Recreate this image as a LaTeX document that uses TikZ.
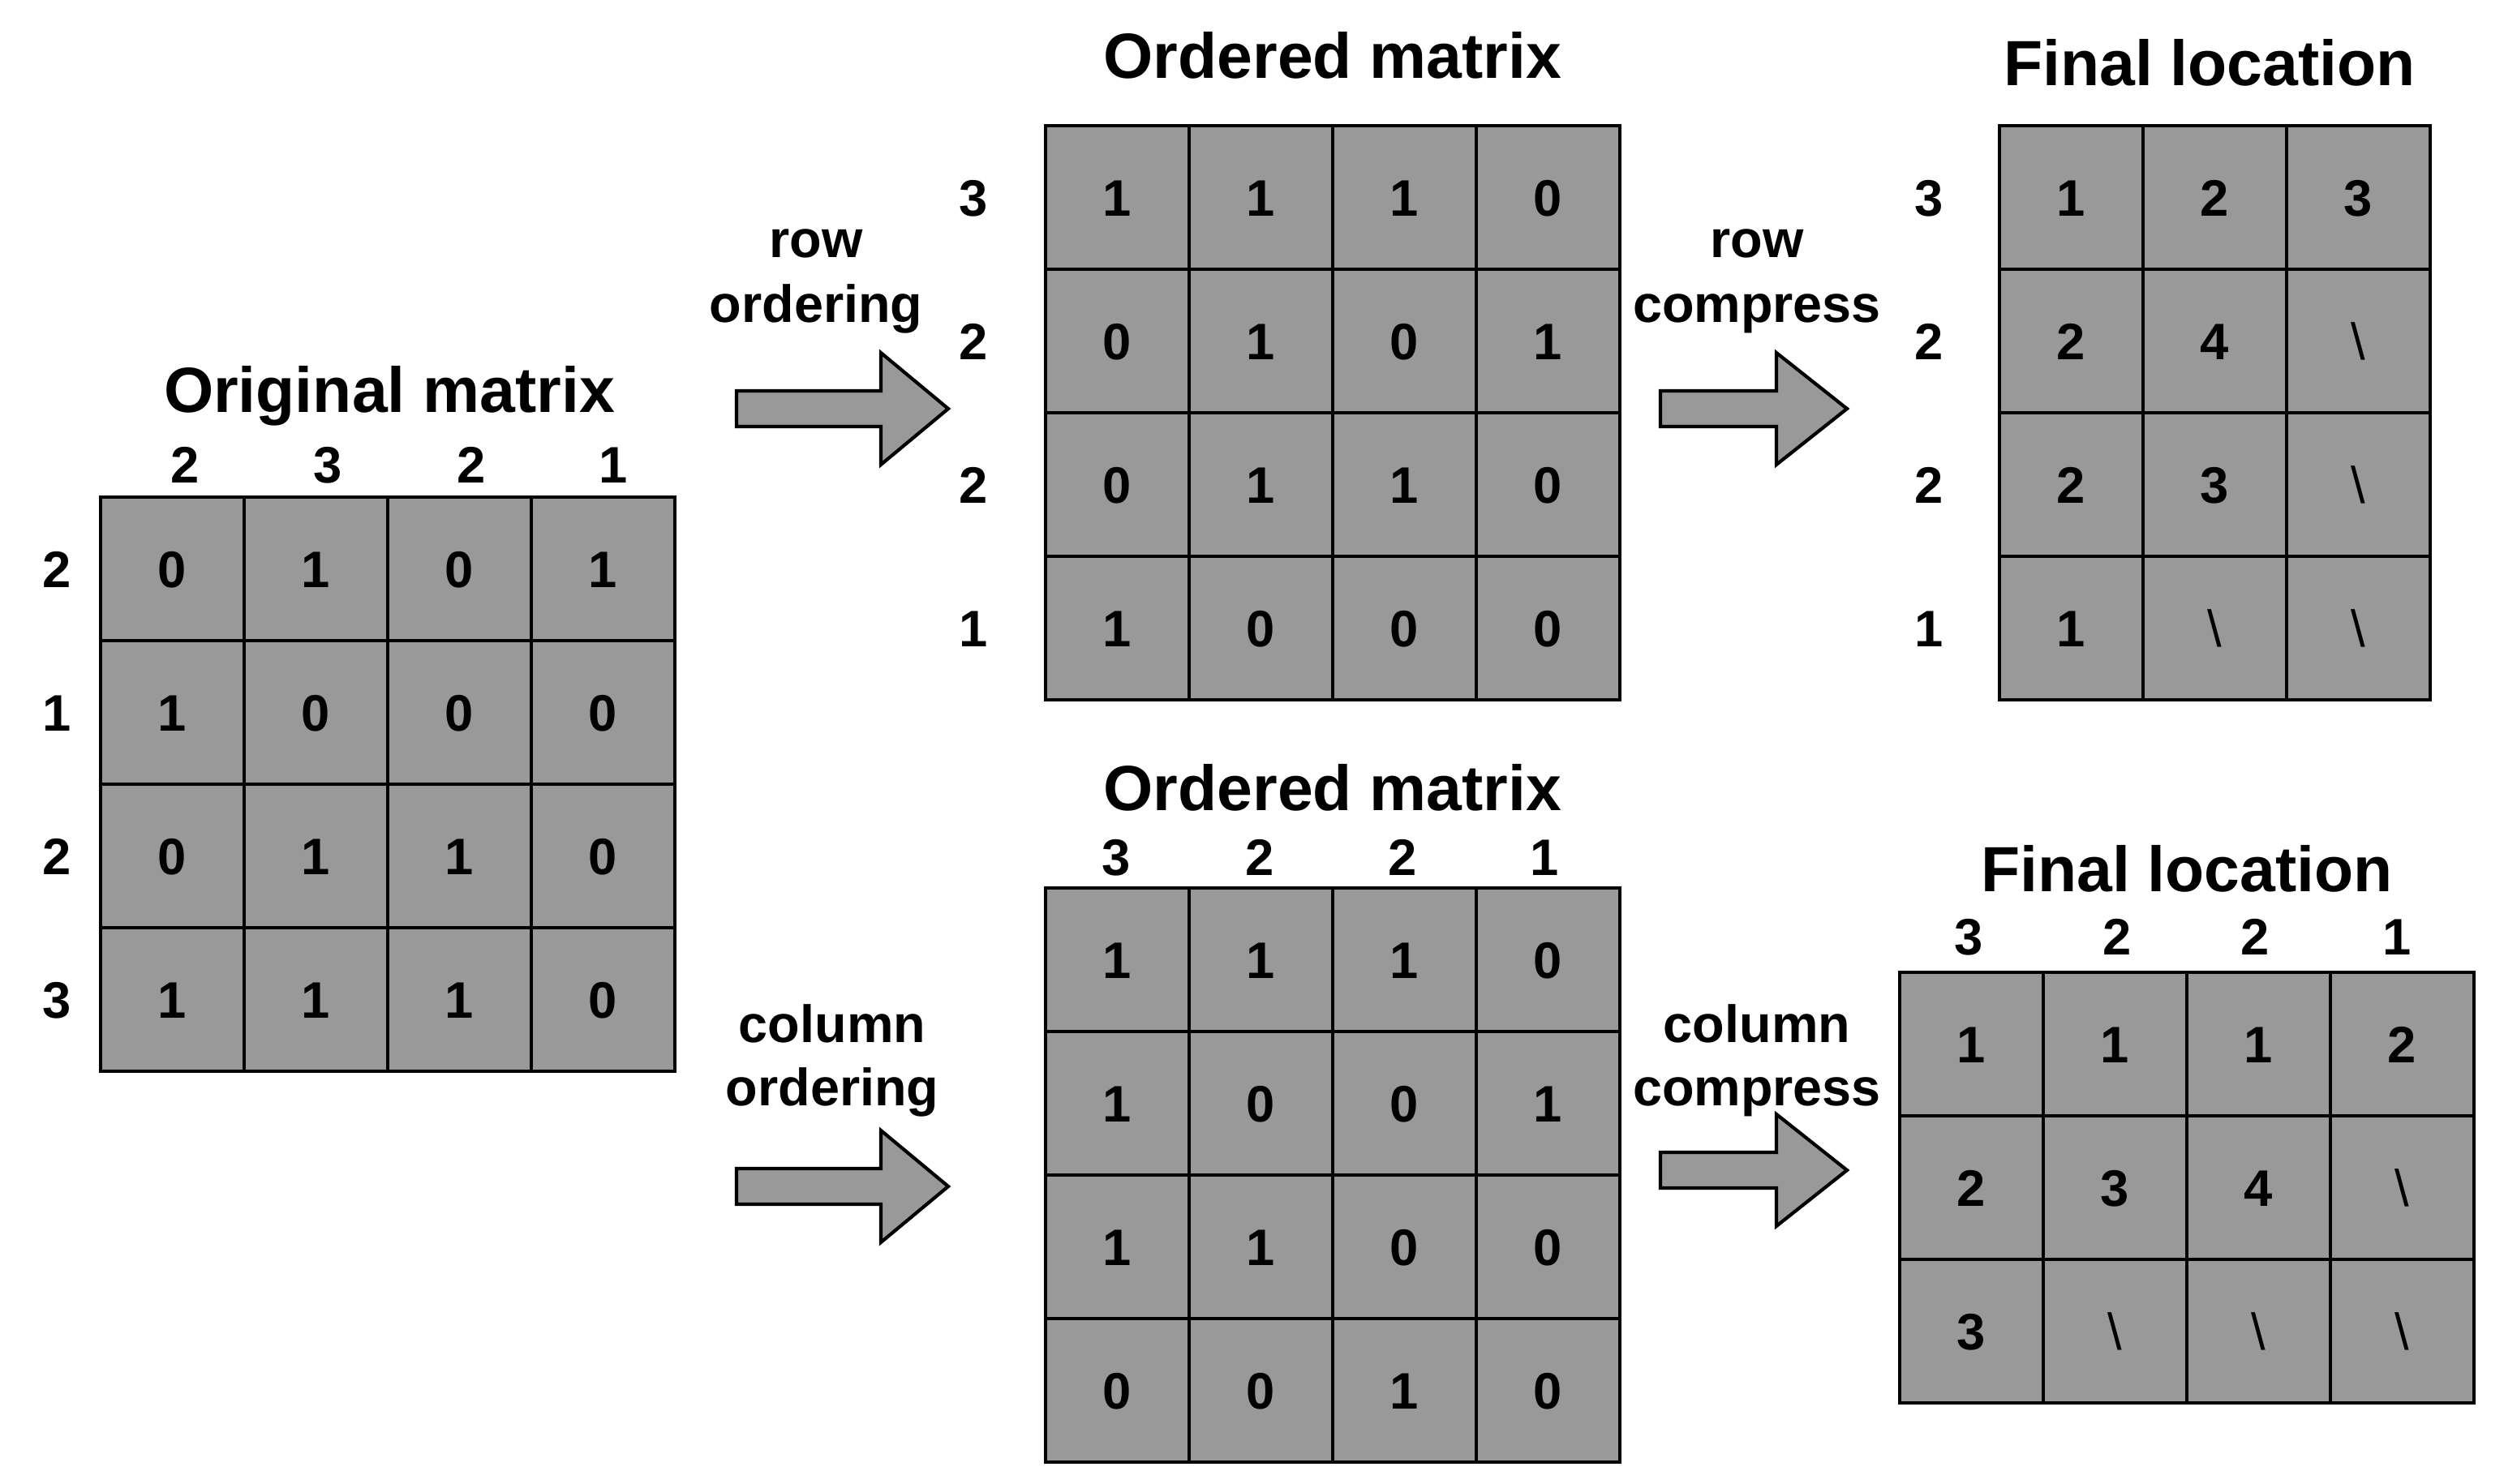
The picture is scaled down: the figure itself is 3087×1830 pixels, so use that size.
\documentclass[tikz,border=0pt]{standalone}
\usepackage{fontspec}
\setmainfont{Liberation Sans}
\definecolor{cellgray}{RGB}{153,153,153}
\newcommand\myTitleFont{\fontsize{22.4}{27}\selectfont\bfseries}
\newcommand\myLabelFont{\fontsize{18.4}{22.8}\selectfont\bfseries}
\newcommand\myDigitFont{\fontsize{18}{21}\selectfont\bfseries}
\newcommand\myBs{{\mdseries\textbackslash}}
\tikzset{
  cellbox/.style={draw=black, line width=1pt, fill=cellgray, minimum size=1.77cm,
    inner sep=0pt, outer sep=0pt, font=\myDigitFont, text height=12.9pt, text depth=0pt},
  idxlabel/.style={inner sep=0pt, font=\myDigitFont, text height=12.9pt, text depth=0pt},
  titletext/.style={inner sep=0pt, anchor=base, font=\myTitleFont},
  steptext/.style={inner sep=0pt, anchor=base, font=\myLabelFont},
  blockarrow/.style={draw=black, line width=1.2pt, fill=cellgray, line join=miter},
}
% #1 tail x, #2 centre y, #3 shaft length, #4 head length
\newcommand\myBlockArrow[4]{%
  \draw[blockarrow] (#1,#2) ++(0,-22) -- ++(#3,0) -- ++(0,-47) -- ++(#4,69)
    -- ++(-#4,69) -- ++(0,-47) -- ++(-#3,0) -- cycle;}
\begin{document}
\begin{tikzpicture}[x=0.01cm, y=-0.01cm]
\useasboundingbox (0,0) rectangle (3087,1830);

% ---------- Original matrix ----------
\node[titletext] (tO) at (480,508) {Original matrix};
\foreach \row [count=\r] in {{0,1,0,1},{1,0,0,0},{0,1,1,0},{1,1,1,0}} {
  \foreach \v [count=\c] in \row {
    \node[cellbox] (O-\r-\c) at ({124+177*(\c-0.5)},{613+177*(\r-0.5)}) {\v};
  }
}
\foreach \v/\x [count=\c] in {2/228,3/404,2/581,1/756}
  \node[idxlabel] (Oc\c) at (\x,573) {\v};
\foreach \v [count=\r] in {2,1,2,3}
  \node[idxlabel] (Or\r) at (70,{613+177*(\r-0.5)}) {\v};

% ---------- Ordered matrix (rows) ----------
\node[titletext] (tA) at (1643,97) {Ordered matrix};
\foreach \row [count=\r] in {{1,1,1,0},{0,1,0,1},{0,1,1,0},{1,0,0,0}} {
  \foreach \v [count=\c] in \row {
    \node[cellbox] (A-\r-\c) at ({1289+177*(\c-0.5)},{155+177*(\r-0.5)}) {\v};
  }
}
\foreach \v [count=\r] in {3,2,2,1}
  \node[idxlabel] (Ar\r) at (1200,{155+177*(\r-0.5)}) {\v};

% ---------- Final location (rows) ----------
\node[titletext] (tB) at (2724,105) {Final location};
\foreach \row [count=\r] in {{1,2,3},{2,4,\myBs},{2,3,\myBs},{1,\myBs,\myBs}} {
  \foreach \v [count=\c] in \row {
    \node[cellbox] (B-\r-\c) at ({2465+177*(\c-0.5)},{155+177*(\r-0.5)}) {\v};
  }
}
\foreach \v [count=\r] in {3,2,2,1}
  \node[idxlabel] (Br\r) at (2378,{155+177*(\r-0.5)}) {\v};

% ---------- Ordered matrix (columns) ----------
\node[titletext] (tC) at (1643,999) {Ordered matrix};
\foreach \row [count=\r] in {{1,1,1,0},{1,0,0,1},{1,1,0,0},{0,0,1,0}} {
  \foreach \v [count=\c] in \row {
    \node[cellbox] (C-\r-\c) at ({1289+177*(\c-0.5)},{1095+177*(\r-0.5)}) {\v};
  }
}
\foreach \v/\x [count=\c] in {3/1376,2/1553,2/1729,1/1904}
  \node[idxlabel] (Cc\c) at (\x,1057) {\v};

% ---------- Final location (columns) ----------
\node[titletext] (tD) at (2696,1099) {Final location};
\foreach \row [count=\r] in {{1,1,1,2},{2,3,4,\myBs},{3,\myBs,\myBs,\myBs}} {
  \foreach \v [count=\c] in \row {
    \node[cellbox] (D-\r-\c) at ({2342+177*(\c-0.5)},{1199+177*(\r-0.5)}) {\v};
  }
}
\foreach \v/\x [count=\c] in {3/2427,2/2610,2/2780,1/2955}
  \node[idxlabel] (Dc\c) at (\x,1155) {\v};

% ---------- Step labels ----------
\node[steptext] (l1a) at (1006,317) {row};
\node[steptext] (l1b) at (1006,397) {ordering};
\node[steptext] (l2a) at (2166,317) {row};
\node[steptext] (l2b) at (2166,397) {compress};
\node[steptext] (l3a) at (1026,1285) {column};
\node[steptext] (l3b) at (1026,1363) {ordering};
\node[steptext] (l4a) at (2166,1285) {column};
\node[steptext] (l4b) at (2166,1363) {compress};

% ---------- Block arrows ----------
\myBlockArrow{908}{504}{178}{83}
\myBlockArrow{2047}{504}{143}{87}
\myBlockArrow{908}{1463}{178}{83}
\myBlockArrow{2047}{1443}{143}{87}
\end{tikzpicture}
\end{document}
